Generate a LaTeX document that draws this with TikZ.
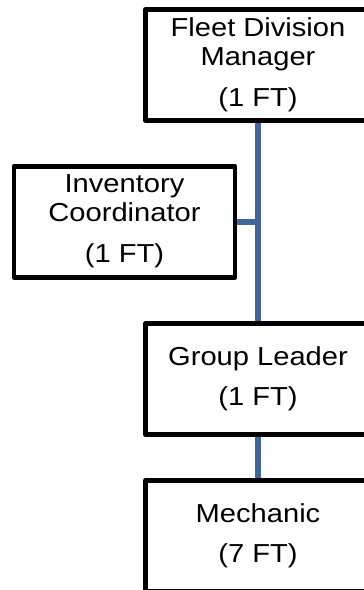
\documentclass[tikz,border=0pt]{standalone}
\usepackage{fontspec}
\setmainfont{Liberation Sans}[FakeStretch=1.12]
\definecolor{linkblue}{RGB}{63,103,158}
\begin{document}
\begin{tikzpicture}[x=1pt,y=1pt,
  orgbox/.style={draw=black, line width=4.8pt, line join=round, fill=white,
    minimum width=225pt, minimum height=111pt, inner sep=0pt, align=center,
    font=\fontsize{26}{29}\selectfont},
  link/.style={draw=linkblue, line width=6pt}]
\useasboundingbox (0,0) rectangle (364,-590);
\node[orgbox] (fdm) at (258,-64.9) {Fleet Division\\Manager\\[12pt](1 FT)};
\node[orgbox, minimum width=221pt] (inv) at (124.5,-221.7) {Inventory\\Coordinator\\[12pt](1 FT)};
\node[orgbox] (gl) at (258,-379.2) {\raisebox{-2pt}{Group Leader}\\[11pt]\raisebox{-2pt}{(1 FT)}};
\node[orgbox] (mech) at (258,-535.8) {\raisebox{-2pt}{Mechanic}\\[11pt]\raisebox{-2pt}{(7 FT)}};
\draw[link] (fdm.south) -- (gl.north);
\draw[link] (inv.east) -- (inv.east -| fdm.south);
\draw[link] (gl.south) -- (mech.north);
\end{tikzpicture}
\end{document}
